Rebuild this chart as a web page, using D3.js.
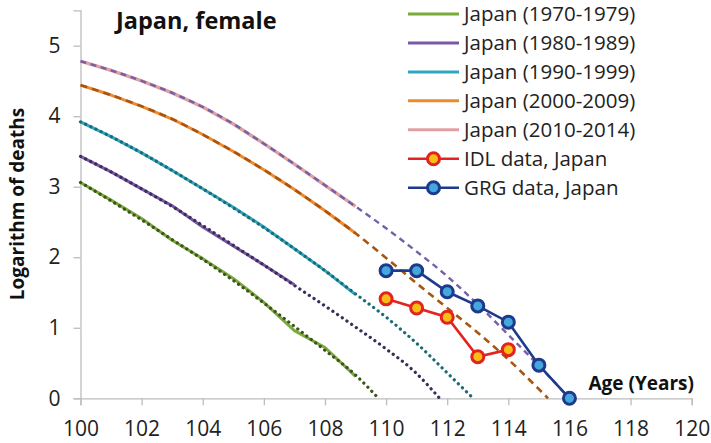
<!DOCTYPE html>
<html>
<head>
<meta charset="utf-8">
<script src="https://cdn.jsdelivr.net/npm/d3@7"></script>
<style>
  html, body { margin: 0; padding: 0; background: #fff; }
  svg { display: block; font-family: "Open Sans", sans-serif; }
</style>
</head>
<body>
<svg id="chart" width="711" height="443"></svg>
<script>
// Observed log-deaths by age, Japanese women, per period
const obsAges = [100, 101, 102, 103, 104, 105, 106, 107, 108, 109];
const obs1970 = [3.06, 2.81, 2.55, 2.24, 1.98, 1.70, 1.36, 0.96, 0.72, 0.31];
const obs1980 = [3.43, 3.21, 2.97, 2.73, 2.43, 2.16, 1.89, 1.61];
const obs1990 = [3.92, 3.71, 3.48, 3.23, 2.97, 2.71, 2.43, 2.12, 1.81, 1.47];
const obs2000 = [4.44, 4.30, 4.14, 3.96, 3.74, 3.50, 3.24, 2.96, 2.66, 2.34];
const obs2010 = [4.78, 4.65, 4.50, 4.33, 4.13, 3.89, 3.61, 3.32, 3.02, 2.72];

// Fitted curves, extended until they reach zero
const fitAges1970 = [100, 101, 102, 103, 104, 105, 106, 107, 108, 109, 109.75];
const fit1970 = [3.06, 2.80, 2.53, 2.25, 1.97, 1.67, 1.35, 1.02, 0.68, 0.33, 0];
const fitAges1980 = [100, 101, 102, 103, 104, 105, 106, 107, 108, 109, 110, 111, 111.75];
const fit1980 = [3.43, 3.21, 2.97, 2.72, 2.45, 2.17, 1.89, 1.60, 1.31, 1.01, 0.70, 0.35, 0];
const fitAges1990 = [100, 101, 102, 103, 104, 105, 106, 107, 108, 109, 110, 111, 112, 112.85];
const fit1990 = [3.92, 3.71, 3.48, 3.23, 2.97, 2.70, 2.42, 2.12, 1.81, 1.48, 1.15, 0.78, 0.36, 0];
const fitAges2000 = [100, 101, 102, 103, 104, 105, 106, 107, 108, 109, 110, 111, 112, 113, 114, 115, 115.3];
const fit2000 = [4.44, 4.30, 4.14, 3.96, 3.74, 3.50, 3.24, 2.96, 2.66, 2.34, 1.99, 1.63, 1.28, 0.93, 0.55, 0.13, 0];
const fitAges2010 = [100, 101, 102, 103, 104, 105, 106, 107, 108, 109, 110, 111, 112, 113, 114, 115, 116];
const fit2010 = [4.78, 4.65, 4.50, 4.33, 4.13, 3.89, 3.61, 3.32, 3.02, 2.72, 2.41, 2.08, 1.73, 1.33, 0.90, 0.46, 0];

// Supercentenarian databases
const idlAges = [110, 111, 112, 113, 114];
const idlValues = [1.41, 1.28, 1.15, 0.59, 0.69];
const grgAges = [110, 111, 112, 113, 114, 115, 116];
const grgValues = [1.81, 1.81, 1.51, 1.31, 1.08, 0.47, 0];

const xTicks = [100, 102, 104, 106, 108, 110, 112, 114, 116, 118, 120];
const yTicks = [0, 1, 2, 3, 4, 5];

const periodNames = ["Japan (1970-1979)", "Japan (1980-1989)", "Japan (1990-1999)",
                     "Japan (2000-2009)", "Japan (2010-2014)"];
const pointNames = ["IDL data, Japan", "GRG data, Japan"];

const svg = d3.select("#chart");
const x = d3.scaleLinear().domain([100, 120]).range([80.5, 691.7]);
const y = d3.scaleLinear().domain([0, 5.5]).range([398.3, 10.4]);

const axisColor = "#bdbdbd";
const font = "'Open Sans', sans-serif";

// Axes
const gx = svg.append("g").attr("transform", `translate(0,${y(0)})`)
  .call(d3.axisBottom(x).tickValues(xTicks).tickSize(7).tickPadding(16).tickFormat(d3.format("d")));
const gy = svg.append("g").attr("transform", `translate(${x(100)},0)`)
  .call(d3.axisLeft(y).tickValues(yTicks).tickSize(7).tickPadding(13).tickFormat(d3.format("d")));
[gx, gy].forEach(g => {
  g.select(".domain").attr("stroke", axisColor).attr("stroke-width", 1.3);
  g.selectAll(".tick line").attr("stroke", axisColor).attr("stroke-width", 1.3);
  g.selectAll(".tick text").attr("fill", "#222").style("font-size", "21px")
    .style("font-family", font);
});

const line = d3.line().x(d => x(d[0])).y(d => y(d[1]));
const smooth = d3.line().x(d => x(d[0])).y(d => y(d[1])).curve(d3.curveMonotoneX);
const zip = (a, b) => a.map((v, i) => [v, b[i]]);

const periods = [
  { obs: obs1970, fa: fitAges1970, fv: fit1970, color: "#7aab3a", fit: "#3d5220", dash: "0.1 5.6", w: 3, fw: 3.2 },
  { obs: obs1980, fa: fitAges1980, fv: fit1980, color: "#7a58a6", fit: "#3a2d5c", dash: "0.1 5.6", w: 3, fw: 3.2 },
  { obs: obs1990, fa: fitAges1990, fv: fit1990, color: "#2fa6c2", fit: "#1b6b74", dash: "0.1 5.6", w: 3, fw: 3.2 },
  { obs: obs2000, fa: fitAges2000, fv: fit2000, color: "#ee8a2c", fit: "#a85512", dash: "7 5", w: 3, fw: 2.6 },
  { obs: obs2010, fa: fitAges2010, fv: fit2010, color: "#e0a0a3", fit: "#7460a8", dash: "6 4.5", w: 3.4, fw: 2.4 }
];

// Observed data as solid lines
periods.forEach(p => {
  svg.append("path").datum(zip(obsAges.slice(0, p.obs.length), p.obs))
    .attr("d", line).attr("fill", "none").attr("stroke", p.color)
    .attr("stroke-width", p.w).attr("stroke-linejoin", "round");
});

// Fitted curves drawn over the observations
periods.forEach(p => {
  svg.append("path").datum(zip(p.fa, p.fv))
    .attr("d", smooth).attr("fill", "none").attr("stroke", p.fit)
    .attr("stroke-width", p.fw).attr("stroke-dasharray", p.dash)
    .attr("stroke-linecap", p.dash.startsWith("0.1") ? "round" : "butt");
});

// Database points
const pointSeries = [
  { ages: idlAges, vals: idlValues, stroke: "#e3231f", fill: "#f9bd16" },
  { ages: grgAges, vals: grgValues, stroke: "#1d3a8c", fill: "#44a7de" }
];
pointSeries.forEach(s => {
  const data = zip(s.ages, s.vals);
  svg.append("path").datum(data).attr("d", line).attr("fill", "none")
    .attr("stroke", s.stroke).attr("stroke-width", 2.6);
  svg.selectAll(null).data(data).enter().append("circle")
    .attr("cx", d => x(d[0])).attr("cy", d => y(d[1])).attr("r", 6)
    .attr("fill", s.fill).attr("stroke", s.stroke).attr("stroke-width", 3);
});

// Titles
svg.append("text").attr("x", 116).attr("y", 29).text("Japan, female")
  .style("font-weight", "bold").style("font-size", "23.5px").attr("fill", "#111");
svg.append("text").attr("x", 694).attr("y", 390).attr("text-anchor", "end").text("Age (Years)")
  .style("font-weight", "bold").style("font-size", "19px").attr("fill", "#111");
svg.append("text").attr("transform", "translate(24,204) rotate(-90)").attr("text-anchor", "middle")
  .text("Logarithm of deaths").style("font-weight", "bold").style("font-size", "19px").attr("fill", "#111");

// Legend
const legend = svg.append("g");
const lx0 = 408, lx1 = 459, ly0 = 14, lstep = 28.95;
periods.forEach((p, i) => {
  const yy = ly0 + i * lstep;
  legend.append("line").attr("x1", lx0).attr("x2", lx1).attr("y1", yy).attr("y2", yy)
    .attr("stroke", p.color).attr("stroke-width", 3);
  legend.append("text").attr("x", 464).attr("y", yy + 7).text(periodNames[i])
    .style("font-size", "20.5px").attr("fill", "#222");
});
pointSeries.forEach((s, j) => {
  const yy = ly0 + (5 + j) * lstep;
  legend.append("line").attr("x1", lx0).attr("x2", lx1).attr("y1", yy).attr("y2", yy)
    .attr("stroke", s.stroke).attr("stroke-width", 2.6);
  legend.append("circle").attr("cx", (lx0 + lx1) / 2).attr("cy", yy).attr("r", 6)
    .attr("fill", s.fill).attr("stroke", s.stroke).attr("stroke-width", 3);
  legend.append("text").attr("x", 464).attr("y", yy + 7).text(pointNames[j])
    .style("font-size", "20.5px").attr("fill", "#222");
});
</script>
</body>
</html>
